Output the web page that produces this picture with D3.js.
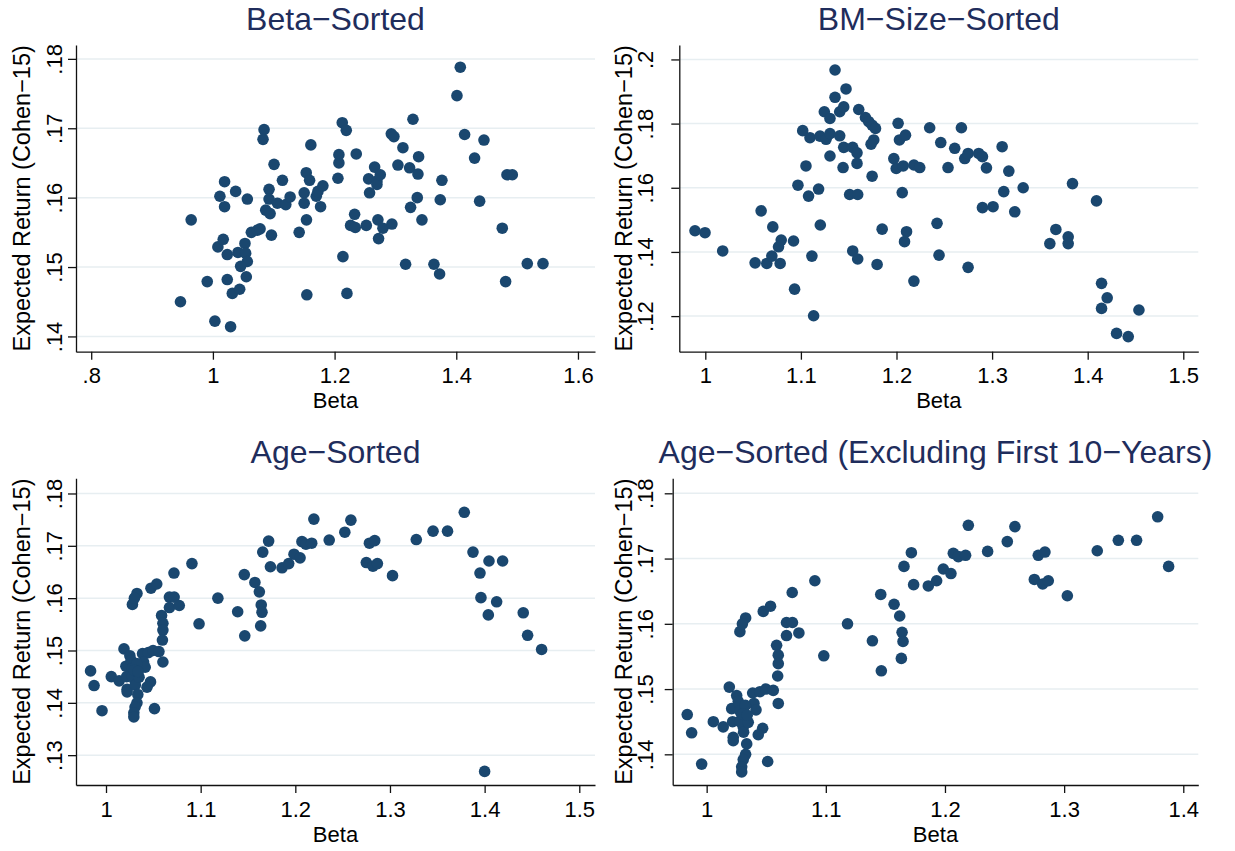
<!DOCTYPE html>
<html>
<head>
<meta charset="utf-8">
<script src="https://cdn.jsdelivr.net/npm/d3@7"></script>
<style>
  body { margin: 0; background: #fff; }
  svg { display: block; font-family: "Liberation Sans", Arial, sans-serif; }
</style>
</head>
<body>
<svg id="chart" width="1235" height="851"></svg>
<script>
// Beta-Sorted portfolios
var betaSortedBeta = [0.9467, 0.9643, 0.9907, 1.0033, 1.0291, 1.0115, 1.0192, 1.0192, 1.0082, 1.0170,
  1.0236, 1.0236, 1.0319, 1.0440, 1.0374, 1.0566, 1.0412, 1.0527, 1.0538, 1.0566,
  1.0456, 1.0549, 1.0632, 1.0731, 1.0775, 1.0841, 1.0824, 1.0868, 1.0940, 1.0962,
  1.0923, 1.0923, 1.1005, 1.1060, 1.1143, 1.1198, 1.1269, 1.1418, 1.1500, 1.1500,
  1.1538, 1.1544, 1.1610, 1.1534, 1.1589, 1.1699, 1.1726, 1.1808, 1.1770, 1.2055,
  1.2071, 1.2071, 1.2126, 1.2192, 1.2356, 1.2137, 1.2203, 1.2329, 1.2263, 1.2340,
  1.2521, 1.2575, 1.2559, 1.2658, 1.2696, 1.2696, 1.2751, 1.2712, 1.2795, 1.2723,
  1.2942, 1.2932, 1.2975, 1.3041, 1.3123, 1.3233, 1.3288, 1.3381, 1.3370, 1.3359,
  1.3249, 1.3436, 1.3167, 1.3633, 1.3726, 1.3764, 1.3737, 1.4011, 1.4066, 1.4137,
  1.4455, 1.4301, 1.4384, 1.4756, 1.4811, 1.4833, 1.4921, 1.5167, 1.5425]
var betaSortedRet = [.1450, .1568, .1479, .1422, .1414, .1602, .1623, .1587, .1529, .1540,
  .1518, .1482, .1462, .1468, .1609, .1598, .1521, .1534, .1520, .1508,
  .1501, .1486, .1550, .1553, .1555, .1698, .1684, .1582, .1577, .1546,
  .1612, .1598, .1648, .1592, .1625, .1590, .1601, .1550, .1607, .1592,
  .1568, .1460, .1676, .1636, .1625, .1602, .1609, .1617, .1587, .1628,
  .1650, .1662, .1708, .1697, .1663, .1515, .1462, .1576, .1560, .1557,
  .1560, .1607, .1627, .1644, .1624, .1619, .1633, .1568, .1556, .1541,
  .1562, .1692, .1688, .1647, .1672, .1643, .1713, .1659, .1634, .1600,
  .1586, .1568, .1504, .1504, .1490, .1625, .1597, .1747, .1788, .1691,
  .1683, .1657, .1595, .1556, .1479, .1633, .1633, .1505, .1505]

// BM-Size-Sorted portfolios
var bmSizeBeta = [0.9892, 0.9997, 1.0182, 1.0521, 1.0584, 1.0643, 1.0706, 1.0696, 1.0766, 1.0794,
  1.0783, 1.0923, 1.0934, 1.0969, 1.1019, 1.1115, 1.1133, 1.1080, 1.1053, 1.1185,
  1.1203, 1.1095, 1.1200, 1.1263, 1.1245, 1.1304, 1.1304, 1.1304, 1.1406, 1.1357,
  1.1357, 1.1406, 1.1448, 1.1472, 1.1448, 1.1441, 1.1542, 1.1587, 1.1587, 1.1510,
  1.1594, 1.1542, 1.1594, 1.1605, 1.1675, 1.1710, 1.1745, 1.1780, 1.1762, 1.1734,
  1.1745, 1.1850, 1.1797, 1.2017, 1.2031, 1.2094, 1.1972, 1.1997, 1.2070, 1.2060,
  1.2105, 1.2084, 1.2182, 1.2182, 1.2243, 1.2347, 1.2463, 1.2539, 1.2609, 1.2679,
  1.2714, 1.2749, 1.2860, 1.2899, 1.2941, 1.3105, 1.3175, 1.3122, 1.3325, 1.2899,
  1.3010, 1.3237, 1.2424, 1.2445, 1.2749, 1.3841, 1.4092, 1.3667, 1.3604, 1.3796,
  1.3796, 1.4145, 1.4204, 1.4145, 1.4302, 1.4424, 1.4536]
var bmSizeRet = [.1466, .1460, .1403, .1366, .1528, .1364, .1478, .1387, .1416, .1437,
  .1364, .1434, .1284, .1608, .1778, .1387, .1201, .1574, .1668, .1596,
  .1484, .1756, .1761, .1751, .1837, .1816, .1699, .1769, .1762, .1967,
  .1882, .1837, .1852, .1908, .1726, .1663, .1726, .1709, .1676, .1579,
  .1579, .1403, .1378, .1844, .1819, .1806, .1795, .1785, .1749, .1736,
  .1636, .1471, .1361, .1801, .1749, .1764, .1691, .1660, .1668, .1585,
  .1463, .1432, .1309, .1671, .1663, .1787, .1741, .1663, .1723, .1787,
  .1691, .1707, .1707, .1697, .1662, .1728, .1652, .1588, .1600, .1538,
  .1541, .1525, .1489, .1390, .1352, .1613, .1559, .1470, .1426, .1447,
  .1426, .1302, .1257, .1224, .1146, .1136, .1219]

// Age-Sorted portfolios
var ageBeta = [0.9837, 0.9874, 0.9958, 1.0056, 1.0139, 1.0190, 1.0252, 1.0386, 1.0447, 1.0497,
  1.0559, 1.0210, 1.0218, 1.0223, 1.0223, 1.0265, 1.0279, 1.0294, 1.0307, 1.0279,
  1.0310, 1.0336, 1.0327, 1.0307, 1.0294, 1.0294, 1.0349, 1.0397, 1.0414, 1.0470,
  1.0433, 1.0512, 1.0325, 1.0300, 1.0340, 1.0587, 1.0601, 1.0601, 1.0596, 1.0601,
  1.0279, 1.0327, 1.0300, 1.0475, 1.0536, 1.0718, 1.0670, 1.0720, 1.0670, 1.0774,
  1.0908, 1.0983, 1.1182, 1.1391, 1.1466, 1.1461, 1.1573, 1.1620, 1.1640, 1.1648,
  1.1634, 1.1656, 1.1718, 1.1737, 1.1860, 1.1930, 1.1986, 1.2050, 1.2070, 1.2112,
  1.2173, 1.2196, 1.2358, 1.2523, 1.2587, 1.2783, 1.2839, 1.2750, 1.2820, 1.2867,
  1.3027, 1.3278, 1.3455, 1.3608, 1.3785, 1.3877, 1.3951, 1.3961, 1.4000, 1.4039,
  1.4046, 1.4127, 1.4190, 1.4408, 1.4454, 1.4602]
var ageRet = [.1461, .1433, .1385, .1450, .1442, .1503, .1490, .1494, .1496, .1500,
  .1498, .1470, .1450, .1426, .1421, .1481, .1466, .1455, .1442, .1450,
  .1434, .1416, .1400, .1392, .1381, .1373, .1449, .1478, .1468, .1440,
  .1430, .1389, .1475, .1462, .1460, .1567, .1552, .1539, .1520, .1478,
  .1588, .1609, .1600, .1619, .1627, .1648, .1602, .1602, .1582, .1586,
  .1666, .1551, .1600, .1574, .1528, .1645, .1630, .1612, .1587, .1573,
  .1547, .1688, .1709, .1660, .1658, .1666, .1684, .1677, .1708, .1703,
  .1705, .1751, .1711, .1726, .1749, .1705, .1710, .1668, .1661, .1666,
  .1643, .1712, .1728, .1728, .1764, .1688, .1648, .1601, .1269, .1568,
  .1671, .1593, .1671, .1572, .1529, .1502]
// the last panel drops the portfolios above this beta
var ageExclBetaMax = 1.39

var xTicksA = [0.8, 1, 1.2, 1.4, 1.6]
var xTicksB = [1, 1.1, 1.2, 1.3, 1.4, 1.5]
var xTicksD = [1, 1.1, 1.2, 1.3, 1.4]
var yTicksA = [.14, .15, .16, .17, .18]
var yTicksB = [.12, .14, .16, .18, .2]
var yTicksC = [.13, .14, .15, .16, .17, .18]
var yTicksD = [.14, .15, .16, .17, .18]

var navy = '#1a476f'
var svg = d3.select('#chart')

// Stata style labels: ".18", "1.2"
function stataFmt (d) {
  var s = String(+d.toFixed(3))
  return s.replace(/^0\./, '.')
}

function drawPanel (p) {
  var x = d3.scaleLinear().domain(p.xDomain).range([p.left, p.right])
  var y = d3.scaleLinear().domain(p.yDomain).range([p.bottom, p.top])
  var g = svg.append('g')

  g.append('g')
    .selectAll('line')
    .data(p.yTicks)
    .enter().append('line')
      .attr('x1', p.left)
      .attr('x2', p.right)
      .attr('y1', function (d) { return y(d) })
      .attr('y2', function (d) { return y(d) })
      .attr('stroke', '#e7eef1')
      .attr('stroke-width', 1.5)

  g.append('g')
    .selectAll('circle')
    .data(d3.zip(p.xs, p.ys))
    .enter().append('circle')
      .attr('cx', function (d) { return x(d[0]) })
      .attr('cy', function (d) { return y(d[1]) })
      .attr('r', 5.8)
      .attr('fill', navy)

  var xa = g.append('g')
      .attr('transform', 'translate(0,' + p.bottom + ')')
      .call(d3.axisBottom(x).tickValues(p.xTicks).tickFormat(stataFmt).tickSize(8).tickSizeOuter(0))
  xa.selectAll('text')
      .attr('y', 31.5)
      .attr('dy', 0)
      .attr('fill', '#000')
      .style('font-size', '22px')

  var ya = g.append('g')
      .attr('transform', 'translate(' + p.left + ',0)')
      .call(d3.axisLeft(y).tickValues(p.yTicks).tickFormat(stataFmt).tickSize(8).tickSizeOuter(0))
  ya.selectAll('text')
      .attr('x', 0)
      .attr('dy', 0)
      .attr('text-anchor', 'middle')
      .attr('transform', 'translate(' + (p.tickLabelX - p.left) + ',0) rotate(-90)')
      .attr('fill', '#000')
      .style('font-size', '22px')

  g.selectAll('.domain, .tick line')
      .attr('stroke', '#111')
      .attr('stroke-width', 1.3)
  g.selectAll('.tick')
      .style('font-family', '"Liberation Sans", Arial, sans-serif')

  g.append('text')
      .attr('x', (p.left + p.right) / 2)
      .attr('y', p.bottom + 56.5)
      .attr('text-anchor', 'middle')
      .style('font-size', '22px')
      .text('Beta')

  g.append('text')
      .attr('transform', 'translate(' + p.titleX + ',' + (p.top + p.bottom) / 2 + ') rotate(-90)')
      .attr('text-anchor', 'middle')
      .style('font-size', '23.5px')
      .text('Expected Return (Cohen\u221215)')

  g.append('text')
      .attr('x', (p.left + p.right) / 2)
      .attr('y', p.top - 15)
      .attr('text-anchor', 'middle')
      .attr('fill', '#1f2d5c')
      .style('font-size', '32px')
      .text(p.title)
}

var ageExclBeta = ageBeta.filter(function (b) { return b < ageExclBetaMax })
var ageExclRet = ageRet.filter(function (r, i) { return ageBeta[i] < ageExclBetaMax })

drawPanel({
  title: 'Beta\u2212Sorted', xs: betaSortedBeta, ys: betaSortedRet,
  left: 76, right: 595, top: 45, bottom: 351.7,
  xDomain: [0.775, 1.628], yDomain: [0.1378, 0.182],
  xTicks: xTicksA, yTicks: yTicksA, tickLabelX: 61.7, titleX: 30
})
drawPanel({
  title: 'BM\u2212Size\u2212Sorted', xs: bmSizeBeta, ys: bmSizeRet,
  left: 679.3, right: 1198.3, top: 45, bottom: 351.7,
  xDomain: [0.9728, 1.5157], yDomain: [0.1089, 0.2045],
  xTicks: xTicksB, yTicks: yTicksB, tickLabelX: 653, titleX: 632
})
drawPanel({
  title: 'Age\u2212Sorted', xs: ageBeta, ys: ageRet,
  left: 76, right: 595, top: 478.3, bottom: 785,
  xDomain: [0.9683, 1.5166], yDomain: [0.1243, 0.1829],
  xTicks: xTicksB, yTicks: yTicksC, tickLabelX: 61.7, titleX: 30
})
drawPanel({
  title: 'Age\u2212Sorted (Excluding First 10\u2212Years)', xs: ageExclBeta, ys: ageExclRet,
  left: 672.7, right: 1198.3, top: 478.3, bottom: 785,
  xDomain: [0.9715, 1.4126], yDomain: [0.1353, 0.1823],
  xTicks: xTicksD, yTicks: yTicksD, tickLabelX: 653, titleX: 632
})
</script>
</body>
</html>
